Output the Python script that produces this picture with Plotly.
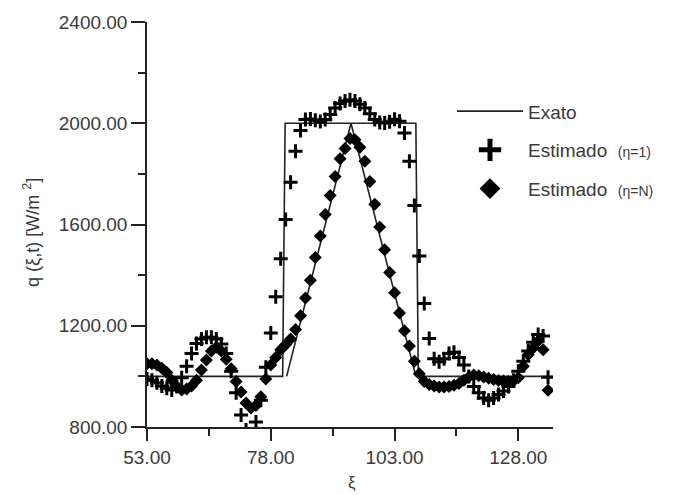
import plotly.graph_objects as go

# Exact solutions (rectangle and triangle)
rect_x = [53, 80.4, 80.9, 107.3, 107.8, 135]
rect_q = [1000, 1000, 2000, 2000, 1000, 1000]
tri_x = [81.2, 94.2, 107.3]
tri_q = [1000, 2000, 1000]

xi = list(range(53, 135))

# Estimated (eta = 1)  -- plus markers
q_eta1 = [990, 985, 975, 962, 953, 946, 960, 995, 1040, 1090,
          1130, 1148, 1155, 1155, 1148, 1128, 1090, 1020, 935, 847,
          788, 768, 820, 906, 1036, 1171, 1315, 1465, 1620, 1767,
          1889, 1971, 2015, 2017, 2012, 2007, 2015, 2035, 2060, 2078,
          2088, 2093, 2088, 2075, 2060, 2038, 2015, 2003, 2001, 2006,
          2016, 2008, 1961, 1850, 1675, 1476, 1288, 1150, 1070, 1058,
          1070, 1090, 1095, 1075, 1045, 1000, 960, 935, 915, 906,
          915, 928, 942, 960, 985, 1020, 1060, 1100, 1135, 1165,
          1160, 997]

# Estimated (eta = N) -- diamond markers
q_etaN = [1050, 1050, 1045, 1032, 1015, 985, 960, 946, 950, 962,
          985, 1025, 1065, 1100, 1115, 1100, 1068, 1030, 980, 938,
          895, 875, 885, 920, 990, 1045, 1075, 1105, 1125, 1148,
          1185, 1240, 1310, 1380, 1470, 1555, 1640, 1715, 1790, 1860,
          1900, 1940, 1935, 1905, 1850, 1770, 1680, 1590, 1500, 1410,
          1330, 1250, 1180, 1120, 1060, 1010, 980, 968, 962, 958,
          958, 960, 965, 972, 985, 998, 1005, 1002, 998, 993,
          988, 984, 982, 980, 982, 995, 1040, 1085, 1112, 1140,
          1105, 945]

x_ticks = [53, 78, 103, 128]
y_ticks = [800, 1200, 1600, 2000, 2400]
legend_names = ["Exato",
                "Estimado  <span style='font-size:14px'>(η=1)</span>",
                "Estimado  <span style='font-size:14px'>(η=N)</span>"]

FONT = "Liberation Sans, Arial, sans-serif"
INK = "#222222"
TXT = "#3a3a3a"

fig = go.Figure()
# data traces
fig.add_trace(go.Scatter(x=rect_x, y=rect_q, mode="lines", showlegend=False,
                         line=dict(color=INK, width=1.6)))
fig.add_trace(go.Scatter(x=tri_x, y=tri_q, mode="lines", showlegend=False,
                         line=dict(color=INK, width=1.6)))
fig.add_trace(go.Scatter(x=xi, y=q_eta1, mode="markers", showlegend=False,
                         marker=dict(symbol="cross-thin", size=10, color="black",
                                     line=dict(color="black", width=3))))
fig.add_trace(go.Scatter(x=xi, y=q_etaN, mode="markers", showlegend=False,
                         marker=dict(symbol="diamond", size=10, color="black",
                                     line=dict(width=0))))
# legend entries (larger symbols, as in the reference legend)
fig.add_trace(go.Scatter(x=[None], y=[None], mode="lines", name=legend_names[0],
                         line=dict(color=INK, width=1.6), legendgroup="a"))
fig.add_trace(go.Scatter(x=[None], y=[None], mode="markers", name=legend_names[1],
                         marker=dict(symbol="cross-thin", size=16, color="black",
                                     line=dict(color="black", width=5)),
                         legendgroup="b"))
fig.add_trace(go.Scatter(x=[None], y=[None], mode="markers", name=legend_names[2],
                         marker=dict(symbol="diamond", size=16, color="black",
                                     line=dict(width=0)),
                         legendgroup="c"))

fig.update_layout(
    width=690, height=495,
    margin=dict(l=147, r=137, t=18, b=68),
    paper_bgcolor="white", plot_bgcolor="white",
    font=dict(family=FONT, size=18, color=TXT),
    showlegend=True,
    legend=dict(x=(452 - 147) / 406, y=(427 - 89) / 409, xanchor="left", yanchor="top",
                bgcolor="rgba(0,0,0,0)", font=dict(size=19, color=TXT),
                tracegroupgap=11, itemwidth=66),
    annotations=[
        dict(text="q (ξ,t) [W/m <sup>2</sup>]", textangle=-90,
             xref="paper", yref="paper", x=(32 - 147) / 406, y=(427 - 231) / 409,
             xanchor="center", yanchor="middle", showarrow=False,
             font=dict(size=18, color=TXT)),
        dict(text="ξ", xref="paper", yref="paper", x=(352 - 147) / 406, y=(427 - 483) / 409,
             xanchor="center", yanchor="middle", showarrow=False,
             font=dict(size=17, color=TXT)),
    ],
)

fig.update_xaxes(range=[53, 135], tickvals=x_ticks, tickformat=".2f",
                 showgrid=False, zeroline=False, showline=True,
                 linecolor=INK, linewidth=1.5, ticks="outside", ticklen=12,
                 tickwidth=1.5, tickcolor=INK, tickfont=dict(size=19),
                 minor=dict(tickvals=[65.5, 90.5, 115.5], ticks="outside",
                            ticklen=7, tickwidth=1.5, tickcolor=INK))
fig.update_yaxes(range=[800, 2400], tickvals=y_ticks, tickformat=".2f",
                 showgrid=False, zeroline=False, showline=True,
                 linecolor=INK, linewidth=1.5, ticks="outside", ticklen=14,
                 tickwidth=1.5, tickcolor=INK, tickfont=dict(size=19),
                 minor=dict(tickvals=[1000, 1400, 1800, 2200], ticks="outside",
                            ticklen=7, tickwidth=1.5, tickcolor=INK))

fig.write_html("out.html", config={"displayModeBar": False},
               post_script="document.body.style.margin='0';")
